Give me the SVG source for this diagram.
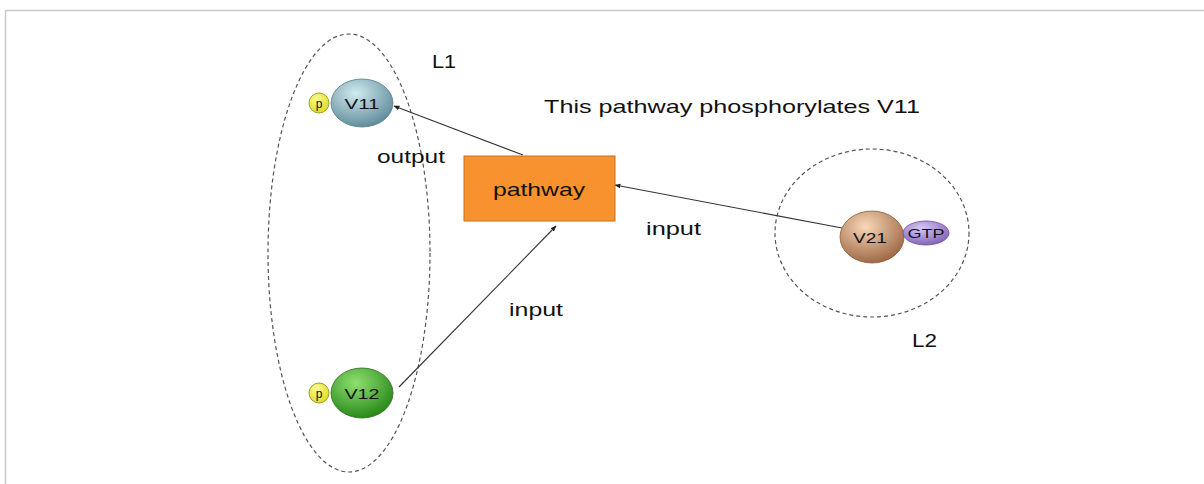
<svg xmlns="http://www.w3.org/2000/svg" width="1204" height="484" viewBox="0 0 1204 484">
<style>
text{font-family:"Liberation Sans",Arial,sans-serif;fill:#111}
.lbl{font-size:19px}
.mol{font-size:15px;text-anchor:middle}
.small{font-size:12px;text-anchor:middle}
.region{fill:none;stroke:#555;stroke-width:1.2;stroke-dasharray:4 3}
.conn{stroke:#333;stroke-width:1.1;fill:none;marker-end:url(#ah)}
</style>
<defs>
<marker id="ah" viewBox="0 0 10 10" refX="9" refY="5" markerWidth="6" markerHeight="6" orient="auto" markerUnits="userSpaceOnUse"><path d="M0,1 L10,5 L0,9 z" fill="#222"/></marker>
<radialGradient id="gV11" cx="40%" cy="30%" r="70%"><stop offset="0" stop-color="#d0eaf0"/><stop offset="1" stop-color="#628e9c"/></radialGradient>
<radialGradient id="gV12" cx="40%" cy="30%" r="70%"><stop offset="0" stop-color="#8ee070"/><stop offset="1" stop-color="#2a8a1a"/></radialGradient>
<radialGradient id="gV21" cx="40%" cy="30%" r="70%"><stop offset="0" stop-color="#f8d8b8"/><stop offset="1" stop-color="#a06a48"/></radialGradient>
<radialGradient id="gGTP" cx="40%" cy="30%" r="70%"><stop offset="0" stop-color="#d8c8f4"/><stop offset="1" stop-color="#8466b8"/></radialGradient>
<radialGradient id="gP" cx="40%" cy="30%" r="70%"><stop offset="0" stop-color="#fbfb90"/><stop offset="1" stop-color="#e0dc20"/></radialGradient>
</defs>
<rect width="1204" height="484" fill="#fff"/>
<path d="M5.5,484 V10.5 H1204" fill="none" stroke="#c8c8c8" stroke-width="1.5"/>
<g id="L1"><ellipse class="region" cx="349" cy="253" rx="81" ry="219"/><text class="lbl" x="432" y="68" textLength="24" lengthAdjust="spacingAndGlyphs">L1</text></g>
<g id="L2"><ellipse class="region" cx="872" cy="233" rx="97" ry="84"/><text class="lbl" x="912" y="347" textLength="25" lengthAdjust="spacingAndGlyphs">L2</text></g>
<g id="title"><text class="lbl" x="544" y="113" textLength="376" lengthAdjust="spacingAndGlyphs">This pathway phosphorylates V11</text></g>
<g id="connectors">
<line class="conn" x1="523" y1="155" x2="394" y2="106"/>
<line class="conn" x1="842" y1="228" x2="615" y2="185"/>
<line class="conn" x1="399" y1="387" x2="556" y2="226"/>
<text class="lbl" x="377" y="163" textLength="68" lengthAdjust="spacingAndGlyphs">output</text>
<text class="lbl" x="646" y="235" textLength="55" lengthAdjust="spacingAndGlyphs">input</text>
<text class="lbl" x="509" y="316" textLength="54" lengthAdjust="spacingAndGlyphs">input</text>
</g>
<g id="pathway"><rect x="464" y="156" width="151" height="65" fill="#f7922e" stroke="#c8701c" stroke-width="1"/><text x="539" y="196" style="font-size:19px;text-anchor:middle" textLength="92" lengthAdjust="spacingAndGlyphs">pathway</text></g>
<g id="V11"><ellipse cx="362" cy="103" rx="31" ry="24" fill="url(#gV11)" stroke="#5a7e88" stroke-width="0.8"/><text class="mol" x="362" y="109" textLength="35" lengthAdjust="spacingAndGlyphs">V11</text>
<circle cx="319" cy="103" r="10" fill="url(#gP)" stroke="#8a8a10" stroke-width="0.8"/><text class="small" x="319" y="108">p</text></g>
<g id="V12"><ellipse cx="362" cy="393" rx="31" ry="25" fill="url(#gV12)" stroke="#2a6a18" stroke-width="0.8"/><text class="mol" x="362" y="399" textLength="35" lengthAdjust="spacingAndGlyphs">V12</text>
<circle cx="319" cy="393" r="10" fill="url(#gP)" stroke="#8a8a10" stroke-width="0.8"/><text class="small" x="319" y="398">p</text></g>
<g id="V21"><ellipse cx="872" cy="237" rx="32" ry="26" fill="url(#gV21)" stroke="#8a5a3a" stroke-width="0.8"/><text class="mol" x="870" y="243" textLength="34" lengthAdjust="spacingAndGlyphs">V21</text></g>
<g id="GTP"><ellipse cx="926" cy="233" rx="23" ry="12" fill="url(#gGTP)" stroke="#6a4e9a" stroke-width="0.8"/><text class="small" x="926" y="238" textLength="37" lengthAdjust="spacingAndGlyphs">GTP</text></g>
</svg>
